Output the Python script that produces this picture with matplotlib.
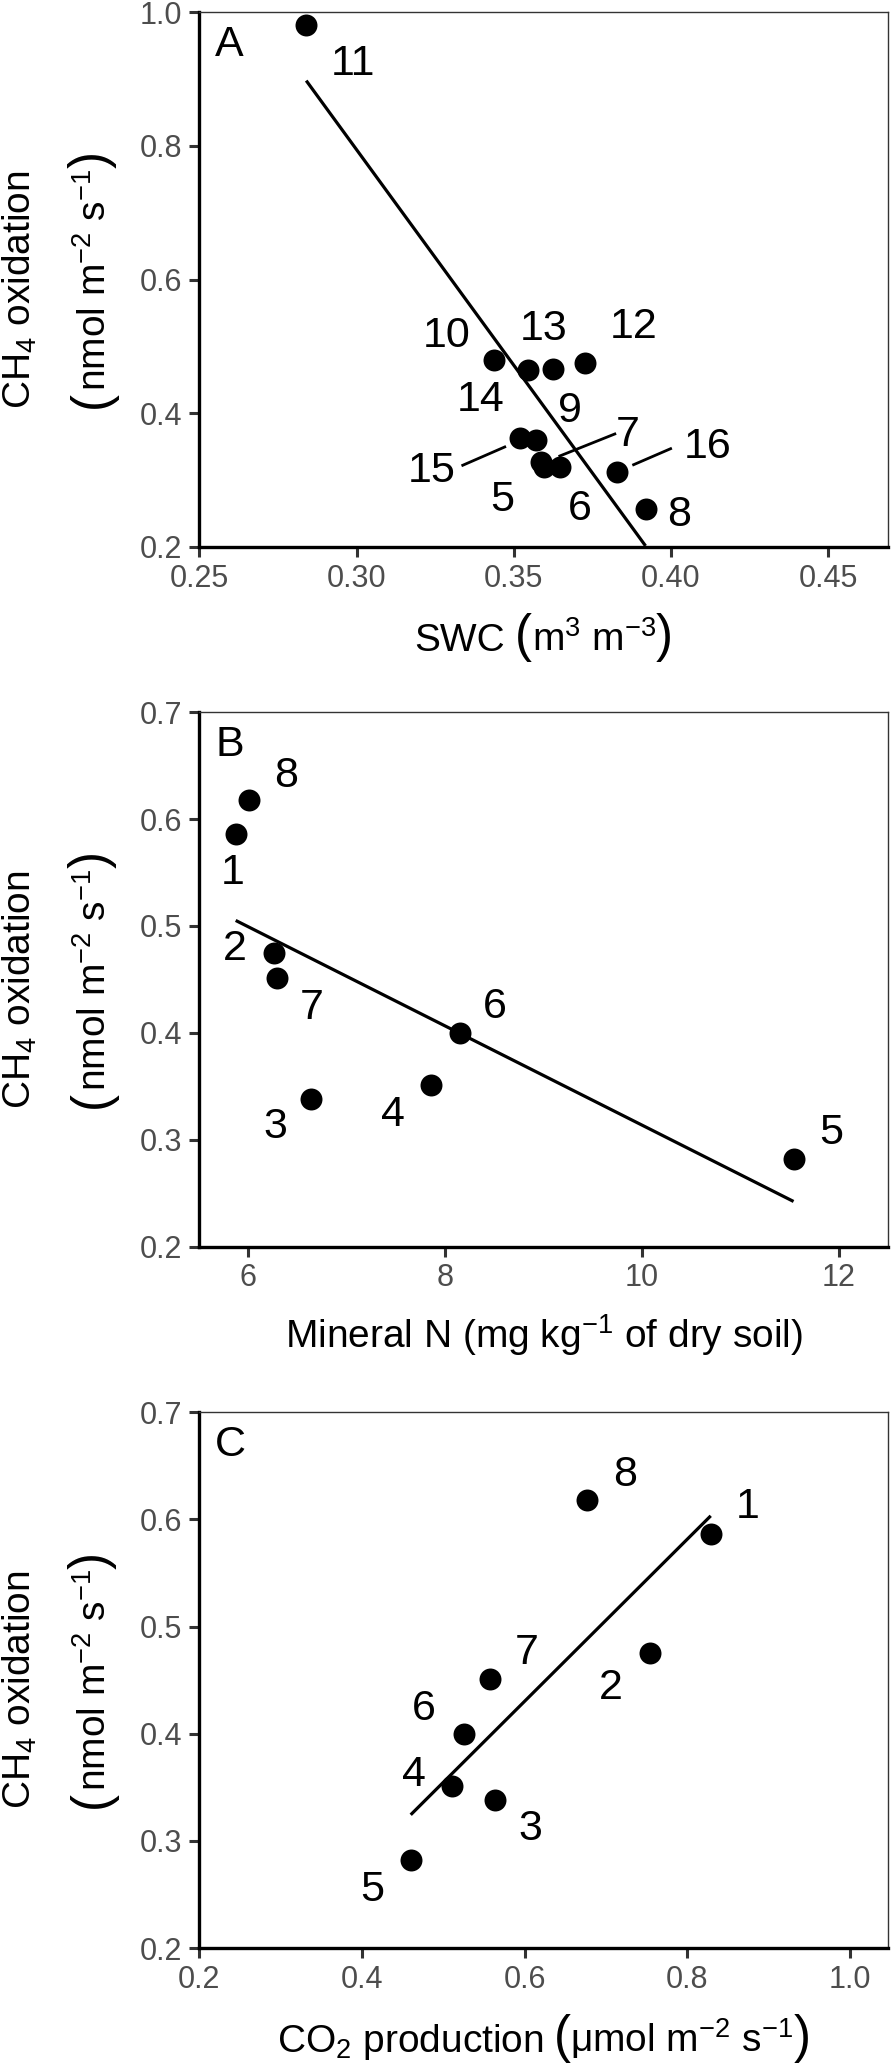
import numpy as np
import matplotlib
matplotlib.use('Agg')
import matplotlib.pyplot as plt
from matplotlib.transforms import offset_copy

plt.rcParams['font.family'] = ['Liberation Sans', 'DejaVu Sans']
plt.rcParams['mathtext.fontset'] = 'custom'
plt.rcParams['mathtext.rm'] = 'Liberation Sans'
plt.rcParams['mathtext.it'] = 'Liberation Sans:italic'
plt.rcParams['mathtext.bf'] = 'Liberation Sans:bold'
plt.rcParams['mathtext.default'] = 'regular'

# ---------------- data ----------------
# Panel A: sites 5-16
a_ids = ['11', '10', '14', '13', '12', '15', '9', '7', '5', '6', '16', '8']
a_swc = [0.284, 0.3436, 0.3544, 0.3626, 0.3725, 0.3519, 0.3572, 0.3586, 0.3595, 0.3647, 0.3827, 0.3919]
a_ch4 = [0.980, 0.480, 0.465, 0.466, 0.475, 0.3626, 0.360, 0.3264, 0.3189, 0.3195, 0.3126, 0.257]

# Panels B and C: samples 1-8
bc_ids = ['1', '2', '3', '4', '5', '6', '7', '8']
bc_ch4 = [0.586, 0.475, 0.338, 0.351, 0.282, 0.400, 0.451, 0.618]
b_minN = [5.87, 6.26, 6.64, 7.85, 11.54, 8.15, 6.29, 6.01]
c_co2 = [0.829, 0.7545, 0.564, 0.511, 0.460, 0.525, 0.558, 0.677]

a_xticks = [0.25, 0.30, 0.35, 0.40, 0.45]
a_yticks = [0.2, 0.4, 0.6, 0.8, 1.0]
b_xticks = [6, 8, 10, 12]
bc_yticks = [0.2, 0.3, 0.4, 0.5, 0.6, 0.7]
c_xticks = [0.2, 0.4, 0.6, 0.8, 1.0]

# ---------------- label placement (pixel offsets, style only) ----------------
a_lab_off = {'11': (47, -39), '10': (-47, 24), '14': (-47, -30), '13': (-10, 40),
             '12': (49, 36), '15': (-88, -33), '9': (34, 29), '7': (87, 27),
             '5': (-41, -33), '6': (20, -42), '16': (91, 25), '8': (34, -6)}
a_seg = {'15': ((-15, -8.7), (-57, -27)), '7': ((19, 6.5), (74, 28.5)),
         '16': ((17, 7), (54, 23))}
b_lab_off = {'1': (-3, -39), '2': (-39, 4), '3': (-36, -28), '4': (-38, -30),
             '5': (38, 26), '6': (35, 26), '7': (35, -30), '8': (37, 24)}
c_lab_off = {'1': (37, 27), '2': (-39, -35), '3': (35, -29), '4': (-38, 11),
             '5': (-38, -30), '6': (-40, 25), '7': (36, 26), '8': (37.5, 25)}

W, H = 893, 2064
fig = plt.figure(figsize=(W / 100, H / 100), dpi=100)
renderer = fig.canvas.get_renderer()

left_px, right_px = 199.3, 888
panels = [(12, 547), (712.3, 1246.5), (1412.3, 1948)]

TICK_FS = 22
LAB_FS = 31
AX_FS = 28
PAR_FS = 37


def make_ax(top, bot):
    ax = fig.add_axes([left_px / W, 1 - bot / H, (right_px - left_px) / W, (bot - top) / H])
    for s in ['left', 'bottom']:
        ax.spines[s].set_linewidth(2.4)
        ax.spines[s].set_color('black')
    for s in ['top', 'right']:
        ax.spines[s].set_linewidth(1.0)
        ax.spines[s].set_color('#333333')
    ax.tick_params(direction='out', length=7.2, width=2.2, color='#333333',
                   labelcolor='#4D4D4D', labelsize=TICK_FS, pad=5)
    return ax


def draw(ax, x, y, ids, offs, segs=None):
    x = np.asarray(x); y = np.asarray(y)
    ax.scatter(x, y, s=250, color='black', zorder=3, clip_on=False, linewidths=0)
    k, b = np.polyfit(x, y, 1)
    xs = np.array([x.min(), x.max()])
    ax.plot(xs, k * xs + b, color='black', lw=2.3, zorder=2, solid_capstyle='butt')
    for xi, yi, lab in zip(x, y, ids):
        dx, dy = offs[lab]
        ax.annotate(lab, (xi, yi), xytext=(dx, dy), textcoords='offset pixels',
                    ha='center', va='center', fontsize=LAB_FS, color='black')
        if segs and lab in segs:
            (sx, sy), (ex, ey) = segs[lab]
            t0 = offset_copy(ax.transData, fig=fig, x=sx, y=sy, units='dots')
            t1 = offset_copy(ax.transData, fig=fig, x=ex, y=ey, units='dots')
            inv = ax.transData.inverted()
            q0 = inv.transform(t0.transform((xi, yi)))
            q1 = inv.transform(t1.transform((xi, yi)))
            ax.plot([q0[0], q1[0]], [q0[1], q1[1]], color='black', lw=2.0)


def seq_text(pieces, pos, base, rotate=False):
    """Lay text pieces (string, fontsize, gap_after_px) end to end.
    pos: centre of the group along the reading direction (display px),
    base: baseline position across it (display px)."""
    widths = []
    for s, fs, gap in pieces:
        t = fig.text(0, 0, s, fontsize=fs)
        widths.append(t.get_window_extent(renderer).width)
        t.remove()
    total = sum(widths) + sum(p[2] for p in pieces[:-1])
    cur = pos - total / 2
    for (s, fs, gap), w in zip(pieces, widths):
        if rotate:
            fig.text(base / W, cur / H, s, fontsize=fs, rotation=90,
                     rotation_mode='anchor', ha='left', va='baseline')
        else:
            fig.text(cur / W, base / H, s, fontsize=fs, ha='left', va='baseline')
        cur += w + gap


def labels(ax, top, bot, letter, xpieces, xbase_off):
    ax.annotate(letter, (0, 1), xycoords='axes fraction', xytext=(16, -33),
                textcoords='offset pixels', ha='left', va='center', fontsize=LAB_FS)
    ymid = H - (top + bot) / 2
    xmid = (left_px + right_px) / 2
    # x axis title
    seq_text(xpieces, xmid, H - (bot + xbase_off))
    # y axis title, line 1
    fig.text(31 / W, (ymid - 10) / H, r'CH$_4$ oxidation', fontsize=AX_FS, rotation=90,
             rotation_mode='anchor', ha='center', va='baseline')
    # y axis title, line 2 with tall brackets
    seq_text([('(', PAR_FS, 0), (r'nmol m$^{-2}$ s$^{-1}$', AX_FS, 0), (')', PAR_FS, 0)],
             ymid, 106, rotate=True)


# Panel A
axA = make_ax(*panels[0])
axA.set_xlim(0.25, 0.469)
axA.set_ylim(0.2, 1.0)
axA.set_xticks(a_xticks)
axA.set_xticklabels([f'{v:.2f}' for v in a_xticks])
axA.set_yticks(a_yticks)
axA.set_yticklabels([f'{v:.1f}' for v in a_yticks])
draw(axA, a_swc, a_ch4, a_ids, a_lab_off, a_seg)
labels(axA, *panels[0], 'A',
       [('SWC', AX_FS, 10), ('(', PAR_FS, 0), (r'm$^{3}$ m$^{-3}$', AX_FS, 0), (')', PAR_FS, 0)],
       104)

# Panel B
axB = make_ax(*panels[1])
axB.set_xlim(5.5, 12.5)
axB.set_ylim(0.2, 0.7)
axB.set_xticks(b_xticks)
axB.set_xticklabels([str(v) for v in b_xticks])
axB.set_yticks(bc_yticks)
axB.set_yticklabels([f'{v:.1f}' for v in bc_yticks])
draw(axB, b_minN, bc_ch4, bc_ids, b_lab_off)
labels(axB, *panels[1], 'B',
       [(r'Mineral N (mg kg$^{-1}$ of dry soil)', AX_FS, 0)], 101)

# Panel C
axC = make_ax(*panels[2])
axC.set_xlim(0.2, 1.047)
axC.set_ylim(0.2, 0.7)
axC.set_xticks(c_xticks)
axC.set_xticklabels([f'{v:.1f}' for v in c_xticks])
axC.set_yticks(bc_yticks)
axC.set_yticklabels([f'{v:.1f}' for v in bc_yticks])
draw(axC, c_co2, bc_ch4, bc_ids, c_lab_off)
labels(axC, *panels[2], 'C',
       [(r'CO$_2$ production', AX_FS, 10), ('(', PAR_FS, 0),
        (r'μmol m$^{-2}$ s$^{-1}$', AX_FS, 0), (')', PAR_FS, 0)],
       104)

fig.savefig('out.png', dpi=100)
